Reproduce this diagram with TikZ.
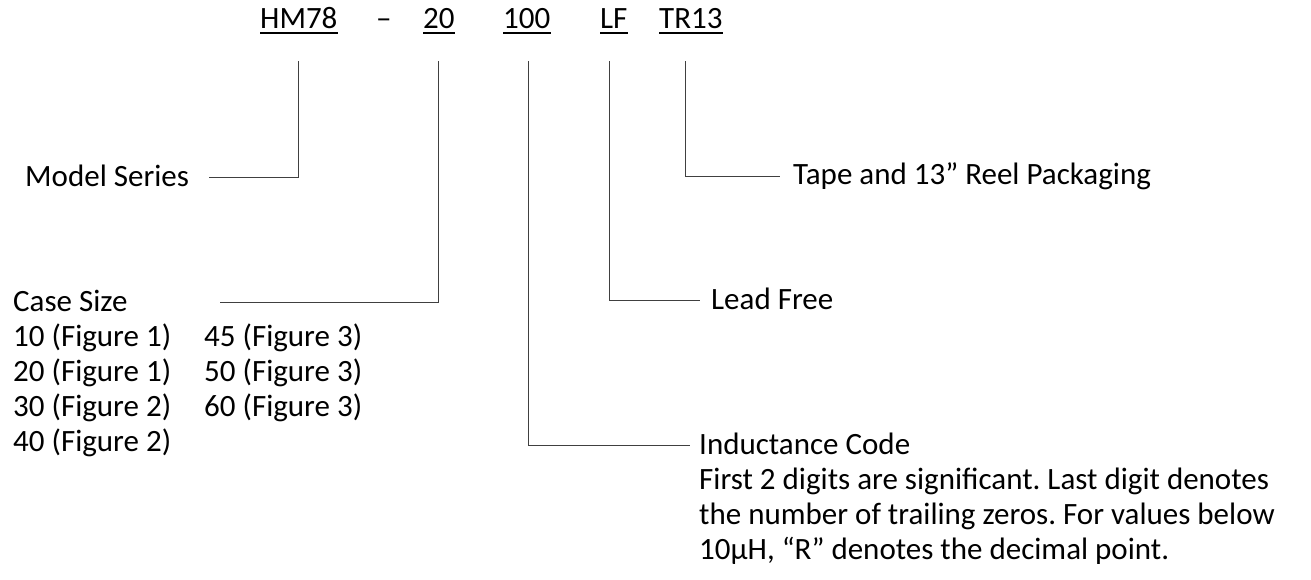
\documentclass[tikz,border=0pt]{standalone}
\usepackage{fontspec}
\setmainfont{Carlito}
\frenchspacing

\tikzset{
  lbl/.style={inner sep=0pt, anchor=base west, font=\fontsize{31pt}{35pt}\selectfont,
    text height=17pt, text depth=0pt},
  code/.style={lbl, text depth=4pt},
  uline/.style={line width=2pt},
  conn/.style={line width=1pt, black!75},
}

\begin{document}
\begin{tikzpicture}[x=1pt,y=-1pt]
\useasboundingbox (0,0) rectangle (1311,580);

% Part number
\node[code] (hm) at (260,29) {HM78\ };
\node[code] (dash) at (376,29) {–};
\node[code] (sz) at (423,29) {20\ };
\node[code] (ind) at (503,29) {100};
\node[code] (lf) at (600,29) {LF};
\node[code] (tr) at (659,29) {TR13};

\draw[uline] (hm.south west) -- (hm.south east);
\draw[uline] (sz.south west) -- (sz.south east);
\draw[uline] (ind.south west) -- (ind.south east);
\draw[uline] (lf.south west) -- (lf.south east);
\draw[uline] (tr.south west) -- (tr.south east);

% Descriptions
\node[lbl] (model) at (25,186) {Model Series};
\node[lbl] (case) at (13,311) {Case Size};
\node[lbl] (case10) at (13,346) {10 (Figure 1)};
\node[lbl] (case20) at (13,381) {20 (Figure 1)};
\node[lbl] (case30) at (13,416) {30 (Figure 2)};
\node[lbl] (case40) at (13,451) {40 (Figure 2)};
\node[lbl] (case45) at (204,346) {45 (Figure 3)};
\node[lbl] (case50) at (204,381) {50 (Figure 3)};
\node[lbl] (case60) at (204,416) {60 (Figure 3)};
\node[lbl] (indc) at (699,454) {Inductance Code};
\node[lbl] (indc1) at (699,489) {First 2 digits are significant. Last digit denotes};
\node[lbl] (indc2) at (699,524) {the number of trailing zeros. For values below};
\node[lbl] (indc3) at (699,559) {10μH, “R” denotes the decimal point.};
\node[lbl] (lead) at (711,309) {Lead Free};
\node[lbl] (tape) at (793,185) {Tape and 13” Reel Packaging};

% Connectors
\draw[conn] ([yshift=-28pt]hm.south) |- ([xshift=20pt]model.east);
\draw[conn] ([yshift=-28pt]sz.south) |- ([xshift=92pt]case.east);
\draw[conn] ([xshift=2pt,yshift=-28pt]ind.south) |- ([xshift=-9pt]indc.west);
\draw[conn] ([xshift=-4pt,yshift=-28pt]lf.south) |- ([xshift=-11pt]lead.west);
\draw[conn] ([xshift=-5pt,yshift=-28pt]tr.south) |- ([xshift=-13pt]tape.west);
\end{tikzpicture}
\end{document}
